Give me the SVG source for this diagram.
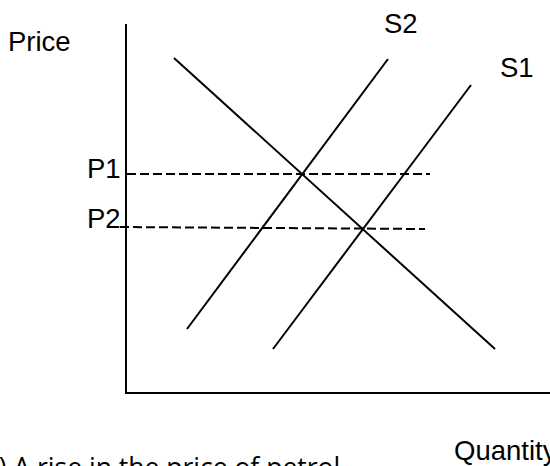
<svg xmlns="http://www.w3.org/2000/svg" width="550" height="466" viewBox="0 0 550 466">
<style>
.ln{stroke:#000;stroke-width:2;fill:none}
.ds{stroke:#000;stroke-width:2;fill:none;stroke-dasharray:9 4}
.t{font-family:"Liberation Sans",Arial,sans-serif;font-size:27.5px;fill:#000}
.c{font-family:"Open Sans","Liberation Sans",sans-serif;font-size:26.5px;fill:#000}
</style>
<rect width="550" height="466" fill="#fff"/>
<g id="axes">
<path class="ln" d="M126 24 V393 H550"/>
</g>
<g id="connectors">
<line id="demand" class="ln" x1="174" y1="58" x2="495" y2="349"/>
<line id="s2" class="ln" x1="187" y1="329" x2="388" y2="59"/>
<line id="s1" class="ln" x1="273" y1="349" x2="471" y2="85"/>
<line id="p1line" class="ds" x1="127" y1="174" x2="430" y2="174"/>
<line id="p2line" class="ds" x1="120" y1="227" x2="425" y2="229"/>
</g>
<g id="labels">
<text class="t" x="8" y="51">Price</text>
<text class="t" x="384" y="33">S2</text>
<text class="t" x="500" y="77">S1</text>
<text class="t" x="87" y="178">P1</text>
<text class="t" x="87" y="228">P2</text>
<text class="t" x="454" y="460">Quantity</text>
<text class="c" x="-14" y="477">c) A rise in the price of petrol</text>
</g>
</svg>
